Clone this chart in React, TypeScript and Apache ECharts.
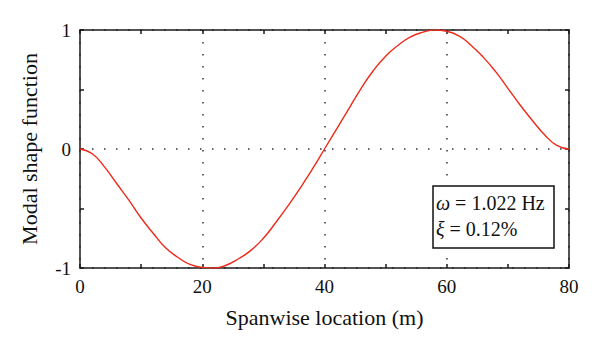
import React, { useEffect, useRef } from "react";
import * as echarts from "echarts";

const xValues = [0, 2, 4, 6, 8, 10, 12, 14, 16, 18, 20, 22, 24, 26, 28, 30, 32, 34, 36, 38, 40, 42, 44, 46, 48, 50, 52, 54, 56, 58, 60, 62, 64, 66, 68, 70, 72, 74, 76, 78, 80];
const modeShape = [0, -0.04, -0.15, -0.29, -0.43, -0.58, -0.71, -0.83, -0.91, -0.97, -0.995, -1.0, -0.975, -0.92, -0.85, -0.75, -0.62, -0.48, -0.33, -0.17, 0.0, 0.17, 0.34, 0.51, 0.66, 0.78, 0.87, 0.94, 0.98, 1.0, 0.99, 0.95, 0.87, 0.77, 0.65, 0.51, 0.37, 0.24, 0.12, 0.03, 0];
const xTickLabels = [0, 20, 40, 60, 80];
const yTickLabels = [-1, 0, 1];
const legendLines = ["{i|ω} = 1.022 Hz", "{i|ξ} = 0.12%"];

const FONT = "'Liberation Serif', 'DejaVu Serif', serif";
const AX = "#1a1a1a";

export default function App() {
  const ref = useRef<HTMLDivElement>(null);
  useEffect(() => {
    if (!ref.current) return;
    const chart = echarts.init(ref.current, null, { renderer: "svg" });
    const dotted = {
      show: true,
      lineStyle: { color: ["#333", "rgba(0,0,0,0)"], width: 1.5, type: [1.5, 10.5] as any },
    };
    const baseX = (pos: "bottom" | "top", withLabels: boolean) => ({
      type: "value" as const,
      min: 0,
      max: 80,
      interval: 10,
      position: pos,
      axisLine: { show: true, onZero: false, lineStyle: { color: AX, width: 1.5 } },
      axisTick: { show: true, inside: true, length: 4, lineStyle: { color: AX, width: 1.5 } },
      axisLabel: withLabels
        ? {
            show: true,
            margin: 9,
            color: "#111",
            fontFamily: FONT,
            fontSize: 19,
            formatter: (v: number) => (xTickLabels.includes(v) ? String(v) : ""),
          }
        : { show: false },
      splitLine: withLabels ? dotted : { show: false },
    });
    const baseY = (pos: "left" | "right", withLabels: boolean) => ({
      type: "value" as const,
      min: -1,
      max: 1,
      interval: 0.5,
      position: pos,
      axisLine: { show: true, onZero: false, lineStyle: { color: AX, width: 1.5 } },
      axisTick: { show: true, inside: true, length: 4, lineStyle: { color: AX, width: 1.5 } },
      axisLabel: withLabels
        ? {
            show: true,
            margin: 9,
            color: "#111",
            fontFamily: FONT,
            fontSize: 19,
            formatter: (v: number) => (yTickLabels.includes(v) ? String(v) : ""),
          }
        : { show: false },
      splitLine: withLabels ? dotted : { show: false },
    });
    chart.setOption({
      animation: false,
      backgroundColor: "#fff",
      grid: { left: 80, right: 31, top: 30, bottom: 83, containLabel: false },
      xAxis: [
        {
          ...baseX("bottom", true),
          name: "Spanwise location (m)",
          nameLocation: "middle",
          nameGap: 38,
          nameTextStyle: { fontFamily: FONT, fontSize: 22, color: "#111" },
        },
        baseX("top", false),
      ],
      yAxis: [
        {
          ...baseY("left", true),
          name: "Modal shape function",
          nameLocation: "middle",
          nameGap: 40,
          nameRotate: 90,
          nameTextStyle: { fontFamily: FONT, fontSize: 22, color: "#111" },
        },
        baseY("right", false),
      ],
      series: [
        {
          type: "line",
          xAxisIndex: 0,
          yAxisIndex: 0,
          data: xValues.map((x, i) => [x, modeShape[i]]),
          smooth: 0.5,
          showSymbol: false,
          symbol: "none",
          lineStyle: { color: "#ee2a1a", width: 1.4 },
          z: 3,
        },
      ],
      graphic: [
        {
          type: "rect",
          z: 100,
          shape: { x: 433, y: 186, width: 121, height: 62 },
          style: { fill: "#fff", stroke: "#111", lineWidth: 1.5 },
        },
        {
          type: "text",
          z: 101,
          x: 436,
          y: 190,
          style: {
            text: legendLines.join("\n"),
            fontFamily: FONT,
            fontSize: 20,
            lineHeight: 26,
            fill: "#111",
            rich: {
              i: { fontFamily: FONT, fontSize: 20, fontStyle: "italic", lineHeight: 26, fill: "#111" },
            },
          },
        },
      ],
    });
    return () => chart.dispose();
  }, []);
  return <div ref={ref} style={{ position: "absolute", left: 0, top: 0, width: 600, height: 351 }} />;
}
